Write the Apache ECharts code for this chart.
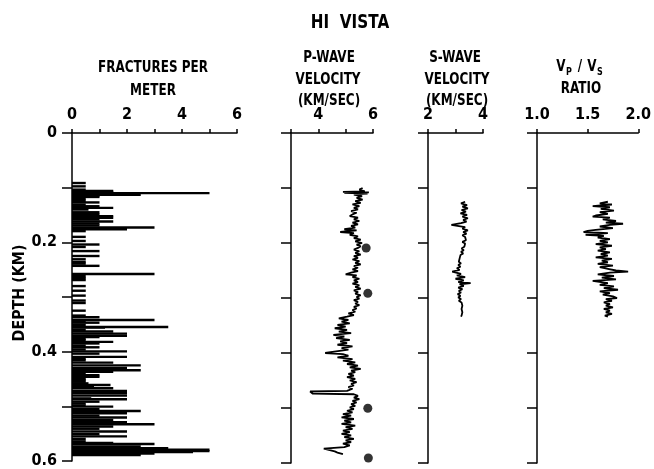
<!DOCTYPE html>
<html>
<head>
<meta charset="utf-8">
<script src="https://cdn.jsdelivr.net/npm/echarts@6/dist/echarts.min.js"></script>
<style>
  html, body { margin: 0; padding: 0; background: #fff; }
  #chart { width: 654px; height: 469px; }
</style>
</head>
<body>
<div id="chart"></div>
<script>
// Hi Vista well log: fractures, Vp, Vs, Vp/Vs against depth (km)

// fractures per meter: depth (km) / count
const fracDepth = [
  0.0915, 0.0976, 0.1036, 0.106, 0.108, 0.110, 0.111, 0.113, 0.1145, 0.117, 0.1205, 0.124, 0.127, 0.131,
  0.134, 0.137, 0.140, 0.145, 0.1485, 0.152, 0.155, 0.158, 0.162, 0.1655, 0.169, 0.173, 0.176, 0.1795,
  0.190, 0.1975, 0.204, 0.2085, 0.216, 0.225, 0.231, 0.236, 0.239, 0.243, 0.258, 0.262, 0.2655,
  0.269, 0.280, 0.2885, 0.2975, 0.3065, 0.311, 0.325, 0.334, 0.337, 0.342, 0.3445, 0.347, 0.351,
  0.355, 0.356, 0.360, 0.363, 0.367, 0.371, 0.3733, 0.376, 0.379, 0.382, 0.385, 0.389, 0.392, 0.396,
  0.3995, 0.4036, 0.4096, 0.413, 0.416, 0.420, 0.425, 0.4296, 0.434, 0.437, 0.440, 0.443, 0.446, 0.449,
  0.452, 0.455, 0.458, 0.461, 0.464, 0.467, 0.472, 0.476, 0.4805, 0.4855, 0.487, 0.4915, 0.495,
  0.4987, 0.5005, 0.505, 0.5085, 0.5127, 0.517, 0.5205, 0.525, 0.529, 0.5327, 0.537, 0.541, 0.546,
  0.551, 0.555, 0.5595, 0.564, 0.567, 0.569, 0.5733, 0.5764, 0.5795, 0.582, 0.5836, 0.5864, 0.589
];
const fracCount = [
  0.5, 0.5, 0.5, 1.5, 1.5, 5.0, 1.5, 2.5, 1.0, 1.0, 0.5, 0.5, 1.0, 0.5,
  1.0, 1.5, 0.6, 1.0, 1.0, 1.5, 1.5, 1.0, 1.5, 1.0, 1.0, 3.0, 2.0, 0.5,
  0.5, 0.5, 1.0, 0.5, 1.0, 1.0, 0.5, 0.5, 0.5, 1.0, 3.0, 0.5, 0.5,
  0.5, 0.5, 0.5, 0.5, 0.5, 0.5, 0.5, 0.5, 1.0, 3.0, 0.5, 1.0, 0.5,
  3.5, 1.2, 0.5, 1.5, 2.0, 2.0, 1.0, 0.5, 0.5, 1.5, 1.0, 0.5, 1.0, 0.5,
  2.0, 1.0, 2.0, 0.5, 0.5, 1.5, 2.5, 2.0, 2.5, 1.5, 0.5, 1.0, 1.0, 0.5,
  0.5, 0.5, 0.6, 1.4, 0.8, 1.5, 2.0, 2.0, 2.0, 0.7, 2.0, 1.0, 0.5,
  0.5, 1.5, 1.0, 2.5, 2.0, 1.0, 2.0, 1.5, 2.0, 3.0, 1.5, 1.0, 2.0,
  1.0, 2.0, 0.5, 0.5, 1.5, 3.0, 2.5, 3.5, 5.0, 5.0, 4.4, 3.0, 2.5
];

// P-wave velocity log (km/sec)
const pDepth = [
  0.100, 0.103, 0.106, 0.107, 0.108, 0.109, 0.110, 0.112, 0.115, 0.118, 0.121, 0.124, 0.127, 0.130,
  0.133, 0.136, 0.139, 0.142, 0.145, 0.148, 0.151, 0.154, 0.157, 0.160, 0.163, 0.166, 0.169, 0.172,
  0.175, 0.177, 0.180, 0.182, 0.185, 0.188, 0.191, 0.194, 0.197, 0.200, 0.203, 0.206, 0.209, 0.212,
  0.215, 0.218, 0.221, 0.224, 0.227, 0.230, 0.233, 0.236, 0.239, 0.242, 0.245, 0.248, 0.251, 0.254,
  0.257, 0.259, 0.262, 0.265, 0.268, 0.271, 0.274, 0.277, 0.280, 0.283, 0.286, 0.289, 0.292, 0.295,
  0.298, 0.301, 0.304, 0.307, 0.310, 0.313, 0.316, 0.319, 0.322, 0.325, 0.328, 0.331, 0.334, 0.337,
  0.340, 0.343, 0.346, 0.349, 0.352, 0.355, 0.358, 0.361, 0.364, 0.367, 0.370, 0.373, 0.376, 0.379,
  0.382, 0.385, 0.388, 0.391, 0.394, 0.397, 0.400, 0.402, 0.405, 0.408, 0.411, 0.414, 0.417, 0.420,
  0.423, 0.426, 0.429, 0.432, 0.435, 0.438, 0.441, 0.444, 0.447, 0.450, 0.453, 0.456, 0.459, 0.462,
  0.465, 0.469, 0.470, 0.474, 0.475, 0.478, 0.481, 0.484, 0.487, 0.490, 0.493, 0.496, 0.499, 0.502,
  0.505, 0.508, 0.511, 0.514, 0.517, 0.520, 0.523, 0.526, 0.529, 0.532, 0.535, 0.538, 0.541, 0.544,
  0.547, 0.550, 0.553, 0.556, 0.559, 0.562, 0.565, 0.568, 0.571, 0.574, 0.577, 0.579, 0.581, 0.584
];
const pVel = [
  5.62, 5.50, 5.70, 4.90, 5.85, 4.95, 5.80, 5.30, 5.60, 5.40, 5.62, 5.35, 5.55, 5.25,
  5.50, 5.30, 5.45, 5.20, 5.40, 5.25, 5.15, 5.45, 5.30, 5.50, 5.25, 5.45, 5.20, 5.35,
  4.95, 5.40, 4.80, 5.30, 5.15, 5.45, 5.30, 5.55, 5.35, 5.60, 5.40, 5.55, 5.45, 5.30,
  5.50, 5.35, 5.55, 5.30, 5.45, 5.25, 5.50, 5.35, 5.55, 5.30, 5.45, 5.25, 5.45, 5.20,
  5.00, 5.40, 5.25, 5.50, 5.30, 5.45, 5.25, 5.50, 5.35, 5.55, 5.30, 5.45, 5.35, 5.55,
  5.40, 5.50, 5.30, 5.45, 5.35, 5.50, 5.30, 5.40, 5.25, 5.35, 5.10, 5.30, 5.05, 4.75,
  5.10, 4.85, 5.15, 4.70, 5.00, 4.60, 5.05, 4.75, 5.20, 4.55, 4.95, 4.65, 5.15, 4.80,
  5.05, 4.70, 5.25, 4.85, 5.10, 4.65, 4.25, 4.90, 5.10, 4.70, 5.25, 4.90, 5.35, 5.05,
  5.45, 5.15, 5.55, 5.20, 5.35, 5.10, 5.30, 5.05, 5.35, 5.15, 5.40, 5.20, 5.30, 5.10,
  5.25, 5.05, 3.70, 3.80, 5.30, 5.45, 5.30, 5.50, 5.25, 5.40, 5.20, 5.35, 5.15, 5.30,
  5.05, 5.25, 4.90, 5.20, 4.85, 5.30, 4.95, 5.20, 4.85, 5.35, 5.00, 5.25, 4.90, 5.15,
  4.85, 5.20, 4.95, 5.30, 5.00, 5.20, 4.90, 5.15, 4.95, 4.20, 4.15, 4.60, 4.70, 4.90
];
// core sample P-wave velocities (dots)
const coreDepth = [0.209, 0.2915, 0.5005, 0.591];
const coreVel = [5.75, 5.81, 5.81, 5.83];

// S-wave velocity log (km/sec)
const sDepth = [
  0.125, 0.128, 0.131, 0.134, 0.137, 0.140, 0.143, 0.146, 0.149, 0.152, 0.155, 0.158, 0.161, 0.164,
  0.167, 0.169, 0.171, 0.174, 0.177, 0.180, 0.183, 0.186, 0.189, 0.192, 0.195, 0.198, 0.201, 0.204,
  0.207, 0.210, 0.213, 0.216, 0.219, 0.222, 0.225, 0.228, 0.231, 0.234, 0.237, 0.240, 0.243, 0.246,
  0.249, 0.252, 0.254, 0.256, 0.259, 0.262, 0.265, 0.268, 0.271, 0.273, 0.275, 0.278, 0.281, 0.284,
  0.287, 0.290, 0.293, 0.296, 0.299, 0.302, 0.305, 0.308, 0.311, 0.314, 0.317, 0.320, 0.323, 0.326,
  0.329, 0.332, 0.334
];
const sVel = [
  3.35, 3.20, 3.42, 3.25, 3.45, 3.22, 3.38, 3.18, 3.42, 3.25, 3.45, 3.28, 3.40, 3.20,
  2.85, 2.80, 3.35, 3.25, 3.45, 3.28, 3.40, 3.25, 3.35, 3.30, 3.38, 3.25, 3.35, 3.28,
  3.32, 3.22, 3.30, 3.20, 3.28, 3.18, 3.25, 3.15, 3.22, 3.12, 3.20, 3.10, 3.18, 3.05,
  3.15, 2.88, 2.85, 3.20, 3.05, 3.35, 3.00, 3.30, 3.10, 3.55, 3.15, 3.30, 3.10, 3.25,
  3.12, 3.20, 3.08, 3.18, 3.10, 3.20, 3.12, 3.22, 3.15, 3.25, 3.18, 3.22, 3.15, 3.25,
  3.18, 3.22, 3.20
];

// Vp/Vs ratio
const rDepth = [
  0.125, 0.128, 0.130, 0.133, 0.135, 0.138, 0.141, 0.144, 0.147, 0.150, 0.152, 0.154, 0.157, 0.160,
  0.163, 0.165, 0.167, 0.170, 0.173, 0.176, 0.178, 0.180, 0.182, 0.185, 0.187, 0.190, 0.193, 0.196,
  0.199, 0.202, 0.205, 0.208, 0.211, 0.214, 0.217, 0.220, 0.223, 0.226, 0.229, 0.232, 0.235, 0.238,
  0.241, 0.244, 0.247, 0.250, 0.252, 0.254, 0.257, 0.260, 0.263, 0.266, 0.269, 0.271, 0.273, 0.276,
  0.279, 0.282, 0.285, 0.288, 0.291, 0.294, 0.297, 0.300, 0.302, 0.305, 0.308, 0.311, 0.314, 0.317,
  0.320, 0.323, 0.326, 0.329, 0.332, 0.334
];
const rRatio = [
  1.70, 1.62, 1.74, 1.55, 1.72, 1.63, 1.76, 1.62, 1.70, 1.58, 1.55, 1.72, 1.65, 1.78,
  1.68, 1.85, 1.72, 1.62, 1.75, 1.58, 1.50, 1.46, 1.70, 1.48, 1.66, 1.60, 1.72, 1.62,
  1.70, 1.58, 1.74, 1.62, 1.68, 1.60, 1.72, 1.63, 1.70, 1.58, 1.74, 1.64, 1.70, 1.60,
  1.75, 1.62, 1.70, 1.78, 1.90, 1.72, 1.60, 1.76, 1.64, 1.78, 1.55, 1.54, 1.70, 1.62,
  1.76, 1.66, 1.80, 1.62, 1.72, 1.65, 1.75, 1.79, 1.68, 1.74, 1.66, 1.72, 1.68, 1.75,
  1.66, 1.72, 1.68, 1.74, 1.67, 1.70
];

const INK = '#000';
const FONT = '"DejaVu Sans Condensed", "Liberation Sans Narrow", "DejaVu Sans", sans-serif';
const LINE = { color: INK, width: 1.5 };

const pairs = (xs, ys) => xs.map((x, i) => [x, ys[i]]);

function depthAxis(i, labels) {
  return {
    type: 'value', gridIndex: i, inverse: true, min: 0, max: 0.6, interval: 0.1,
    axisLine: { show: true, onZero: false, lineStyle: LINE },
    axisTick: { show: true, length: 10, lineStyle: LINE },
    axisLabel: {
      show: labels, margin: 15, color: INK, fontSize: 16, fontWeight: 'bold', fontFamily: FONT,
      formatter: (v) => {
        const k = Math.round(v * 10);
        return k % 2 ? '' : (k === 0 ? '0' : (k / 10).toFixed(1));
      },
    },
    splitLine: { show: false },
  };
}

function topAxis(i, min, max, interval, fmt) {
  return {
    type: 'value', gridIndex: i, position: 'top', min, max, interval,
    axisLine: { show: true, onZero: false, lineStyle: LINE },
    axisTick: { show: true, length: 4, lineStyle: LINE },
    axisLabel: { margin: 10, color: INK, fontSize: 16, fontWeight: 'bold', fontFamily: FONT, formatter: fmt },
    splitLine: { show: false },
  };
}

function label(text, x, y, size, extra) {
  return Object.assign({
    type: 'text', x, y, scaleX: 0.8,
    style: { text, x: 0, y: 0, align: 'center', verticalAlign: 'middle', fill: INK,
             font: `bold ${size}px "DejaVu Sans"` },
  }, extra || {});
}

const chart = echarts.init(document.getElementById('chart'));
chart.setOption({
  animation: false,
  backgroundColor: '#fff',
  grid: [
    { left: 72, top: 133, width: 165, height: 330 },
    { left: 291, top: 133, width: 82, height: 330 },
    { left: 428, top: 133, width: 55, height: 330 },
    { left: 537, top: 133, width: 110, height: 330 },
  ],
  xAxis: [
    topAxis(0, 0, 6, 1, (v) => (v % 2 === 0 ? String(v) : '')),
    topAxis(1, 3, 6, 1, (v) => (v % 2 === 0 ? String(v) : '')),
    topAxis(2, 2, 4, 1, (v) => (v % 2 === 0 ? String(v) : '')),
    topAxis(3, 1, 2, 0.5, (v) => v.toFixed(1)),
  ],
  yAxis: [depthAxis(0, true), depthAxis(1, false), depthAxis(2, false), depthAxis(3, false)],
  graphic: [
    label('HI  VISTA', 350, 23, 19),
    label('FRACTURES PER', 153, 68, 15),
    label('METER', 153, 91, 15),
    label('P-WAVE', 329, 58, 15),
    label('VELOCITY', 328, 80, 15),
    label('(KM/SEC)', 329, 101, 15),
    label('S-WAVE', 455, 58, 15),
    label('VELOCITY', 457, 80, 15),
    label('(KM/SEC)', 457, 101, 15),
    // V_P / V_S with subscripts
    {
      type: 'group', x: 580, y: 67,
      children: [
        label('V', -19, 0, 15),
        label('P', -11, 5, 10),
        label('/', 0, 0, 15),
        label('V', 12, 0, 15),
        label('S', 20, 5, 10),
      ],
    },
    label('RATIO', 581, 89, 15),
    label('DEPTH (KM)', 20, 293, 15, { rotation: Math.PI / 2, scaleX: 0.95 }),
  ],
  series: [
    {
      type: 'custom', xAxisIndex: 0, yAxisIndex: 0,
      data: pairs(fracCount, fracDepth),
      encode: { x: 0, y: 1 },
      renderItem: (params, api) => {
        const a = api.coord([0, api.value(1)]);
        const b = api.coord([api.value(0), api.value(1)]);
        const h = 2.4;
        return { type: 'rect', shape: { x: a[0], y: a[1] - h / 2, width: b[0] - a[0], height: h }, style: { fill: INK } };
      },
    },
    {
      type: 'line', xAxisIndex: 1, yAxisIndex: 1, data: pairs(pVel, pDepth),
      showSymbol: false, lineStyle: { color: INK, width: 1.8 },
    },
    {
      type: 'scatter', xAxisIndex: 1, yAxisIndex: 1, data: pairs(coreVel, coreDepth),
      symbolSize: 9, itemStyle: { color: INK },
    },
    {
      type: 'line', xAxisIndex: 2, yAxisIndex: 2, data: pairs(sVel, sDepth),
      showSymbol: false, lineStyle: { color: INK, width: 1.8 },
    },
    {
      type: 'line', xAxisIndex: 3, yAxisIndex: 3, data: pairs(rRatio, rDepth),
      showSymbol: false, lineStyle: { color: INK, width: 1.8 },
    },
  ],
});
</script>
</body>
</html>
